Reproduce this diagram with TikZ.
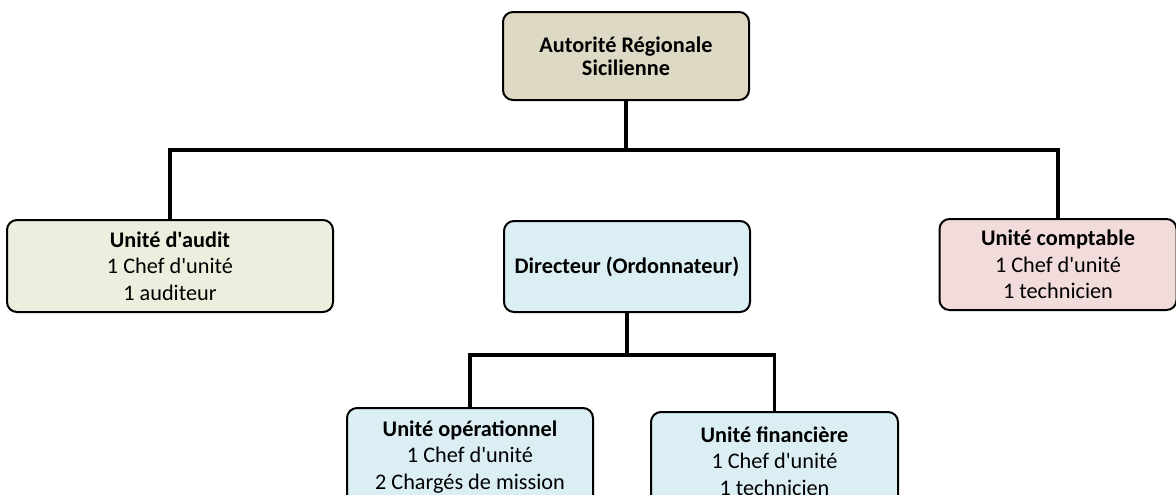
\documentclass[tikz,border=0pt]{standalone}
\usepackage{fontspec}
\setmainfont{Carlito}[Ligatures=TeXOff]
\definecolor{ctop}{HTML}{DDD9C4}
\definecolor{caudit}{HTML}{EBF0DE}
\definecolor{cblue}{HTML}{DBEEF4}
\definecolor{cpink}{HTML}{F2DCDB}
\tikzset{
  unitbox/.style={draw=black, line width=1.5pt, rounded corners=7.5pt, align=center,
    inner sep=0pt, font=\fontsize{16.7}{20}\selectfont},
  conn/.style={draw=black, line width=2.4pt}
}
\begin{document}
\begin{tikzpicture}[x=0.75pt,y=-0.75pt]
\useasboundingbox (0,0) rectangle (1176,494);
\clip (0,0) rectangle (1176,494);
\node[unitbox, fill=ctop, minimum width=246*0.75pt, minimum height=88*0.75pt,
  font=\fontsize{16.7}{17.5}\selectfont\bfseries] (top) at (626,56) {Autorité Régionale\\Sicilienne};
\node[unitbox, fill=caudit, minimum width=326*0.75pt, minimum height=92*0.75pt] (audit) at (170,266)
  {\textbf{Unité d'audit}\\1 Chef d'unité\\1 auditeur};
\node[unitbox, fill=cblue, minimum width=246*0.75pt, minimum height=91*0.75pt] (dir) at (627,266.5)
  {\textbf{Directeur (Ordonnateur)}};
\node[unitbox, fill=cpink, minimum width=237*0.75pt, minimum height=91*0.75pt] (compt) at (1058,264.5)
  {\textbf{Unité comptable}\\1 Chef d'unité\\1 technicien};
\node[unitbox, fill=cblue, minimum width=246*0.75pt, minimum height=98*0.75pt] (oper) at (470,457)
  {\textbf{Unité opérationnel}\\1 Chef d'unité\\2 Chargés de mission};
\node[unitbox, fill=cblue, minimum width=247*0.75pt, minimum height=98*0.75pt] (fin) at (774.5,461)
  {\textbf{Unité financière}\\1 Chef d'unité\\1 technicien};
\draw[conn] (top.south) -- ++(0,49) coordinate (bus1);
\draw[conn] (audit.north) |- (bus1) -| (compt.north);
\draw[conn] (dir.south) -- ++(0,42) coordinate (bus2);
\draw[conn] (oper.north) |- (bus2) -| (fin.north);
\end{tikzpicture}
\end{document}
